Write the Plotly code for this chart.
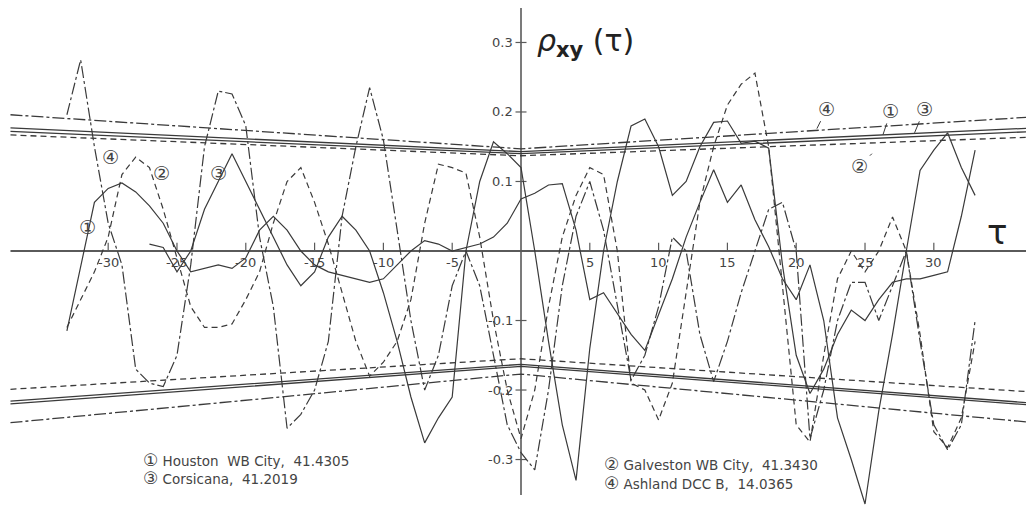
import plotly.graph_objects as go

# ── Design tokens ────────────────────────────────────────────────────────────
_BG = "#FFFFFF"
_INK = "#3a3a3a"
_AXIS = "#5a5a5a"
_TEXT = "#444444"
_FONT = "DejaVu Sans, Liberation Sans, sans-serif"

_STYLE = {
    "1": dict(dash="solid"),
    "2": dict(dash="6px,4px"),
    "3": dict(dash="solid"),
    "4": dict(dash="12px,3px,3px,3px"),
}

# ── Data ─────────────────────────────────────────────────────────────────────
lags = list(range(-33, 34))

houston = [
    -0.115, -0.02, 0.07, 0.09, 0.098, 0.085, 0.065, 0.04, 0.0, -0.03,
    -0.025, -0.02, -0.025, -0.01, 0.03, 0.05, 0.03, 0.0, -0.02, -0.03,
    -0.035, -0.04, -0.045, -0.04, -0.02, 0.0, 0.015, 0.01, 0.0, 0.005,
    0.01, 0.02, 0.04, 0.075, 0.083, 0.095, 0.097, 0.03, -0.07, -0.06,
    -0.09, -0.12, -0.143, -0.09, -0.04, 0.02, 0.07, 0.117, 0.07, 0.095,
    0.045, 0.006, -0.04, -0.07, -0.02, -0.10, -0.24, -0.30, -0.364, -0.23,
    -0.12, 0.0, 0.116, 0.145, 0.17, 0.12, 0.08,
]

galveston = [
    -0.11, -0.07, -0.03, 0.02, 0.11, 0.135, 0.12, 0.06, -0.01, -0.08,
    -0.11, -0.11, -0.105, -0.07, -0.03, 0.04, 0.10, 0.12, 0.07, 0.01,
    -0.06, -0.13, -0.18, -0.16, -0.13, -0.07, 0.04, 0.125, 0.12, 0.112,
    0.02, -0.10, -0.20, -0.27, -0.20, -0.08, 0.02, 0.08, 0.12, 0.11,
    0.0, -0.19, -0.20, -0.243, -0.19, -0.06, 0.07, 0.15, 0.21, 0.24,
    0.256, 0.15, -0.05, -0.25, -0.275, -0.15, -0.04, 0.0, -0.03, 0.0,
    0.049, 0.0, -0.12, -0.26, -0.283, -0.24, -0.13,
]

corsicana_lags = list(range(-27, 34))
corsicana = [
    0.01, 0.005, -0.03, 0.0, 0.06, 0.10, 0.14, 0.10, 0.06, 0.02,
    -0.02, -0.05, -0.03, 0.02, 0.05, 0.03, 0.0, -0.06, -0.13, -0.21,
    -0.276, -0.24, -0.21, 0.0, 0.10, 0.157, 0.14, 0.12, 0.0, -0.13,
    -0.25, -0.33, -0.14, 0.0, 0.10, 0.18, 0.19, 0.15, 0.08, 0.10,
    0.15, 0.185, 0.187, 0.155, 0.158, 0.148, -0.02, -0.15, -0.205, -0.17,
    -0.12, -0.085, -0.10, -0.07, -0.045, -0.04, -0.04, -0.035, -0.03, 0.05,
    0.145,
]

ashland = [
    0.196, 0.275, 0.15, 0.04, -0.02, -0.17, -0.19, -0.195, -0.15, -0.02,
    0.15, 0.23, 0.226, 0.18, 0.02, -0.08, -0.255, -0.235, -0.20, -0.13,
    0.05, 0.15, 0.235, 0.16, 0.03, -0.10, -0.20, -0.15, -0.05, 0.0,
    -0.05, -0.15, -0.25, -0.29, -0.315, -0.20, -0.05, 0.05, 0.10, 0.03,
    -0.08, -0.186, -0.15, -0.08, 0.02, 0.0, -0.12, -0.188, -0.13, -0.06,
    0.0, 0.06, 0.07, 0.0, -0.27, -0.20, -0.10, -0.045, -0.045, -0.10,
    -0.05, 0.0, -0.13, -0.25, -0.286, -0.25, -0.10,
]

# confidence bands: value at left edge, at zero lag, at right edge
band_lags = [-37.1, 0, 37.3]
band_upper = {
    "4": [0.196, 0.147, 0.193],
    "1": [0.177, 0.143, 0.177],
    "3": [0.172, 0.140, 0.172],
    "2": [0.167, 0.137, 0.164],
}
band_lower = {
    "2": [-0.199, -0.155, -0.203],
    "1": [-0.216, -0.163, -0.219],
    "3": [-0.220, -0.166, -0.222],
    "4": [-0.247, -0.177, -0.247],
}

x_ticks = [-30, -25, -20, -15, -10, -5, 5, 10, 15, 20, 25, 30]
y_ticks = [0.3, 0.2, 0.1, -0.1, -0.2, -0.3]
y_tick_text = ["0.3", "0.2", "0.1", "-0.1", "-0.2", "-0.3"]

legend_marks = ["\u2460", "\u2462", "\u2461", "\u2463"]
legend_names = ["Houston  WB City,  41.4305", "Corsicana,  41.2019",
                "Galveston WB City,  41.3430", "Ashland DCC B,  14.0365"]

# the page body has an 8px margin, so the figure is 8px smaller each way
X_RANGE = [-37.28, 37.28]
Y_RANGE = [-0.3683, 0.3496]


def _line(x, y, key, width=1.2):
    return go.Scatter(
        x=x, y=y, mode="lines", hoverinfo="skip", showlegend=False,
        line=dict(color=_INK, width=width, **_STYLE[key]),
    )


fig = go.Figure()

# axes drawn through the origin
fig.add_trace(go.Scatter(x=[-37.1, X_RANGE[1]], y=[0, 0], mode="lines",
                         line=dict(color=_AXIS, width=2), hoverinfo="skip",
                         showlegend=False))
fig.add_trace(go.Scatter(x=[0, 0], y=[0.354, -0.351], mode="lines",
                         line=dict(color=_AXIS, width=1.6), hoverinfo="skip",
                         showlegend=False))

# tick marks
tx, ty = [], []
for t in x_ticks:
    tx += [t, t, None]
    ty += [0, 0.012, None]
for t in y_ticks:
    tx += [-0.4, 0.4, None]
    ty += [t, t, None]
fig.add_trace(go.Scatter(x=tx, y=ty, mode="lines", hoverinfo="skip",
                         line=dict(color=_AXIS, width=1.2), showlegend=False))

# confidence bands
for key, vals in band_upper.items():
    fig.add_trace(_line(band_lags, vals, key, width=1.3))
for key, vals in band_lower.items():
    fig.add_trace(_line(band_lags, vals, key, width=1.3))

# correlation curves
fig.add_trace(_line(lags, houston, "1"))
fig.add_trace(_line(lags, galveston, "2"))
fig.add_trace(_line(corsicana_lags, corsicana, "3"))
fig.add_trace(_line(lags, ashland, "4"))

ann = []
for t in x_ticks:
    ann.append(dict(x=t, y=-0.016, text=str(t), showarrow=False,
                    font=dict(size=13, color=_TEXT, family=_FONT)))
for t, s in zip(y_ticks, y_tick_text):
    ann.append(dict(x=-0.45, y=t, text=s, showarrow=False, xanchor="right",
                    font=dict(size=13, color=_TEXT, family=_FONT)))

ann.append(dict(x=1.0, y=0.30, text="<i>\u03c1</i><sub><b>xy</b></sub> (\u03c4)",
                showarrow=False, xanchor="left",
                font=dict(size=30, color="#222", family=_FONT)))
ann.append(dict(x=34.6, y=0.027, text="\u03c4", showarrow=False,
                font=dict(size=34, color="#222", family=_FONT)))

# curve labels (left side)
for txt, x, y in [("\u2463", -29.8, 0.135), ("\u2461", -26.1, 0.112),
                  ("\u2462", -22.0, 0.112), ("\u2460", -31.5, 0.034)]:
    ann.append(dict(x=x, y=y, text=txt, showarrow=False,
                    font=dict(size=19, color=_TEXT, family=_FONT)))

# band labels with leaders (right side)
for txt, x, y, ax, ay in [("\u2463", 21.5, 0.176, 10, -20),
                          ("\u2460", 26.3, 0.167, 8, -24),
                          ("\u2462", 28.6, 0.170, 10, -24),
                          ("\u2461", 25.5, 0.140, -12, 12)]:
    ann.append(dict(x=x, y=y, text=txt, showarrow=True, arrowhead=0,
                    arrowwidth=1, arrowcolor=_INK, ax=ax, ay=ay,
                    font=dict(size=19, color=_TEXT, family=_FONT)))

legend_pos = [(-27.6, -0.300), (-27.6, -0.327), (5.9, -0.307), (5.9, -0.334)]
for mark, name, (x, y) in zip(legend_marks, legend_names, legend_pos):
    ann.append(dict(x=x, y=y, showarrow=False, xanchor="left",
                    text=f'<span style="font-size:17px">{mark}</span> {name}',
                    font=dict(size=13.5, color=_TEXT, family=_FONT)))

fig.update_layout(
    template=None,
    width=1026, height=499,
    paper_bgcolor=_BG, plot_bgcolor=_BG,
    margin=dict(l=0, r=0, t=0, b=0),
    xaxis=dict(range=X_RANGE, visible=False),
    yaxis=dict(range=Y_RANGE, visible=False),
    annotations=ann,
    showlegend=False,
)

fig.write_html("out.html")
